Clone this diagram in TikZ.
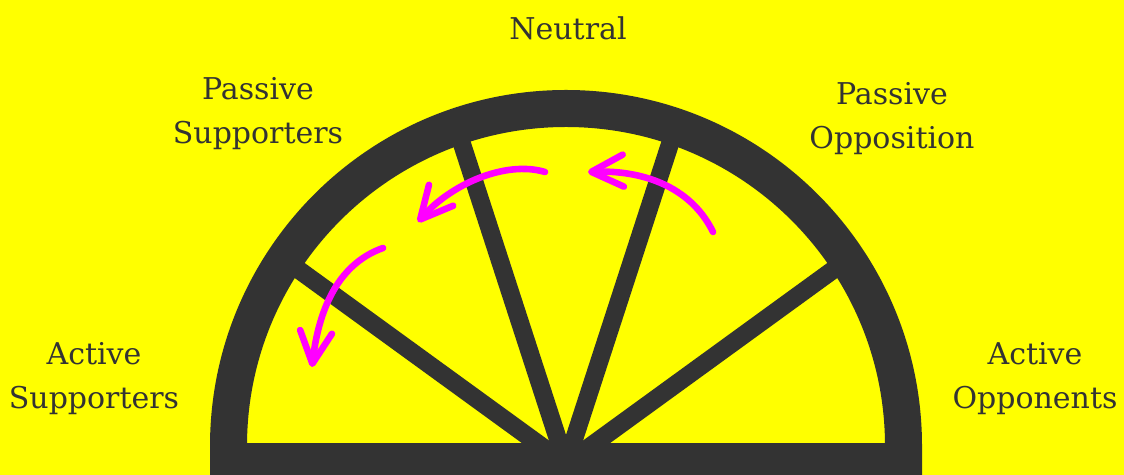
\documentclass[tikz,border=0pt]{standalone}
\usepackage{fontspec}
\setmainfont{DejaVu Serif}
\usepackage{tikz}
\usetikzlibrary{arrows.meta, positioning}
\definecolor{wheelgray}{HTML}{333333}
\definecolor{bgyellow}{HTML}{FFFF00}
\definecolor{swingpink}{HTML}{FF00FF}
\tikzset{every node/.style={font=\fontsize{15}{22}\selectfont, text=wheelgray}}
\tikzset{
  group/.style={align=center, inner sep=0pt},
  spokebar/.style={wheelgray, line width=9pt},
  swing/.style={swingpink, line width=3.3pt, line cap=round,
    -{Straight Barb[length=16pt, width=16pt, round]}}
}

\begin{document}
\begin{tikzpicture}[x=0.5pt, y=0.5pt]
    \fill[bgyellow] (0,0) rectangle (1124,475);
    \useasboundingbox (0,0) rectangle (1124,475);
    \coordinate (hub) at (566,11);
    \foreach \ang in {36,72,108,144}
      \draw[spokebar] (hub) -- ++(\ang:350);
    \draw[wheelgray, line width=18.5pt]
      (903.5,0) -- (903.5,29) arc[start angle=0, end angle=180, radius=337.5] -- (228.5,0);
    \fill[wheelgray] (210,0) rectangle (922,32);
    \node[group, anchor=base] (neutral) at (568,435) {Neutral};
    \node[group] (passup) at (258,361) {Passive\\Supporters};
    \node[group] (pasopp) at (892,356) {Passive\\Opposition};
    \node[group] (actsup) at (94,96) {Active\\Supporters};
    \node[group] (actopp) at (1035,96) {Active\\Opponents};
    \coordinate (s1) at (713,243);
    \coordinate (e1) at (588,303);
    \draw[swing] (s1) .. controls (690,290) and (640,305) .. (e1);
    \coordinate (s2) at (545,303);
    \coordinate (e2) at (418,253);
    \draw[swing] (s2) .. controls (505,315) and (450,290) .. (e2);
    \coordinate (s3) at (383,227);
    \coordinate (e3) at (312,108);
    \draw[swing] (s3) .. controls (335,210) and (318,160) .. (e3);
  \end{tikzpicture}
\end{document}
